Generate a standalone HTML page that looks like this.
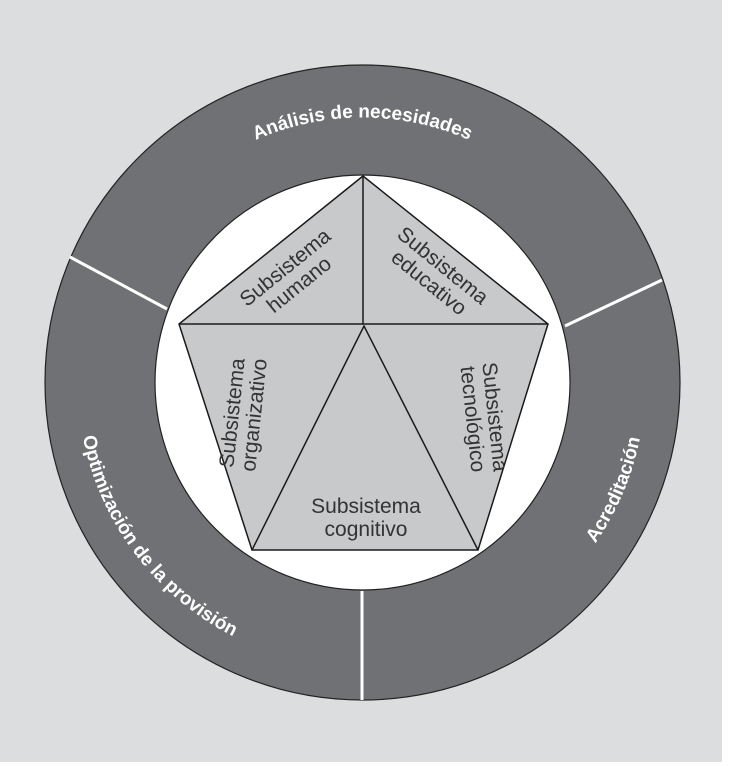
<!DOCTYPE html>
<html><head><meta charset="utf-8"><style>
html,body{margin:0;padding:0;background:#fff}
svg{display:block}
</style></head><body>
<svg width="730" height="766" viewBox="0 0 730 766" xmlns="http://www.w3.org/2000/svg">
<rect x="0" y="0" width="722" height="762" fill="#dcdddf"/>
<defs>
<path id="pTop" d="M97.5,382.5 A265,265 0 0 1 627.5,382.5"/>
<path id="pLeft" d="M123.5,227.3 A285,285 0 0 0 445.8,655"/>
<path id="pRight" d="M347.7,665.1 A283,283 0 0 0 555.5,175.5"/>
</defs>
<circle cx="362.5" cy="382.5" r="317.5" fill="#707174" stroke="#222" stroke-width="1.2"/>
<circle cx="362.5" cy="382.5" r="207.5" fill="#fff" stroke="#222" stroke-width="1.2"/>
<line x1="70" y1="257" x2="167" y2="309" stroke="#fff" stroke-width="3"/>
<line x1="565" y1="326" x2="662" y2="280" stroke="#fff" stroke-width="3"/>
<line x1="362" y1="591" x2="362" y2="700" stroke="#fff" stroke-width="3"/>
<g font-family="Liberation Sans, sans-serif" font-weight="bold" font-size="19" fill="#fff">
<text><textPath href="#pTop" startOffset="50%" text-anchor="middle">Análisis de necesidades</textPath></text>
<text><textPath href="#pLeft" startOffset="50%" text-anchor="middle">Optimización de la provisión</textPath></text>
<text><textPath href="#pRight" startOffset="50%" text-anchor="middle">Acreditación</textPath></text>
</g>
<polygon points="363,176 548,324 478,550 252,550 179,324" fill="#c8c9cb" stroke="#1a1a1a" stroke-width="1.5"/>
<line x1="363" y1="176" x2="363" y2="324" stroke="#1a1a1a" stroke-width="1.5"/>
<line x1="179" y1="324" x2="548" y2="324" stroke="#1a1a1a" stroke-width="1.5"/>
<polyline points="252,550 364,326 478,550" fill="none" stroke="#1a1a1a" stroke-width="1.5"/>
<g font-family="Liberation Sans, sans-serif" font-size="21" fill="#333" text-anchor="middle">
<g transform="translate(292,276) rotate(-39)"><text x="0" y="-4">Subsistema</text><text x="0" y="18">humano</text></g>
<g transform="translate(436,274) rotate(39)"><text x="0" y="-4">Subsistema</text><text x="0" y="18">educativo</text></g>
<g transform="translate(243,414) rotate(-84)"><text x="0" y="-4">Subsistema</text><text x="0" y="18">organizativo</text></g>
<g transform="translate(484,418) rotate(84)"><text x="0" y="-4">Subsistema</text><text x="0" y="18">tecnológico</text></g>
<text x="366" y="513">Subsistema</text>
<text x="366" y="536">cognitivo</text>
</g>
</svg>
</body></html>
